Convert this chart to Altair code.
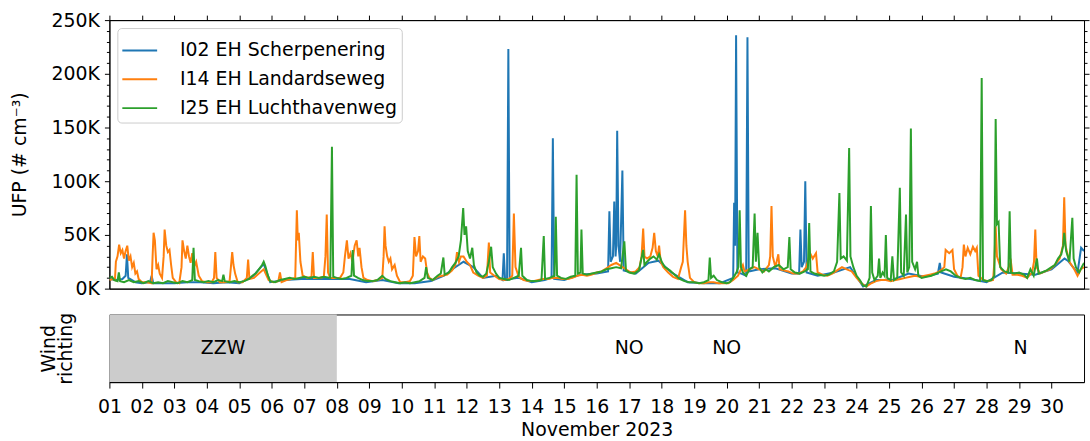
import altair as alt
import pandas as pd

SERIES_NAMES = ["I02 EH Scherpenering", "I14 EH Landardseweg", "I25 EH Luchthavenweg"]
COLORS = ["#1f77b4", "#ff7f0e", "#2ca02c"]

# (day of November as decimal, UFP in thousands per cm3)
BLUE = [
    (1.0, 9), (1.2, 8), (1.4, 9), (1.5, 12), (1.54, 32), (1.58, 10), (1.8, 6), (2.0, 5), (2.25, 6), (2.3, 12),
    (2.35, 5), (2.6, 5), (3.0, 5), (3.4, 6), (3.8, 6), (4.2, 5), (4.6, 6), (5.0, 5), (5.4, 11), (5.75, 23),
    (5.95, 6), (6.4, 8), (6.9, 9), (7.4, 9), (7.9, 9), (8.4, 9), (8.9, 6), (9.4, 8), (9.9, 5), (10.4, 5),
    (10.9, 7), (11.3, 12), (11.6, 19), (11.9, 25), (12.2, 20), (12.5, 10), (12.9, 12), (13.1, 8), (13.14, 33),
    (13.18, 8), (13.24, 8), (13.28, 223), (13.32, 9), (13.6, 10), (14.0, 6), (14.4, 8), (14.61, 10), (14.65, 140),
    (14.69, 9), (15.0, 8), (15.5, 13), (16.0, 14), (16.35, 16), (16.39, 72), (16.43, 25), (16.5, 30),
    (16.54, 81), (16.58, 30), (16.6, 40), (16.63, 147), (16.67, 40), (16.72, 25), (16.79, 110), (16.83, 17),
    (17.2, 14), (17.6, 24), (17.9, 26), (18.3, 15), (18.8, 6), (19.3, 5), (19.8, 5), (20.2, 10), (20.23, 80),
    (20.26, 40), (20.29, 236), (20.33, 15), (20.45, 14), (20.6, 12), (20.64, 234), (20.68, 16), (21.0, 18),
    (21.5, 19), (22.0, 14), (22.23, 14), (22.27, 55), (22.31, 20), (22.38, 25), (22.42, 100), (22.46, 15),
    (22.8, 12), (23.3, 15), (23.8, 20), (24.2, 2), (24.6, 8), (25.1, 8), (25.6, 14), (26.1, 11), (26.5, 14),
    (26.56, 24), (26.6, 15), (27.0, 11), (27.5, 9), (28.0, 6), (28.5, 15), (29.0, 14), (29.5, 13), (30.0, 18),
    (30.4, 28), (30.5, 26), (30.8, 15), (30.91, 38), (31.0, 35),
]

ORANGE = [
    (1.0, 8), (1.1, 9), (1.17, 8), (1.2, 25), (1.25, 30), (1.3, 41), (1.35, 33), (1.4, 36), (1.45, 28),
    (1.5, 35), (1.55, 40), (1.6, 26), (1.65, 30), (1.7, 20), (1.75, 24), (1.8, 14), (1.85, 16), (1.9, 9),
    (2.0, 6), (2.15, 6), (2.3, 5), (2.33, 30), (2.36, 52), (2.4, 45), (2.45, 18), (2.5, 22), (2.55, 14),
    (2.62, 10), (2.67, 30), (2.7, 55), (2.75, 40), (2.8, 34), (2.85, 36), (2.9, 22), (2.95, 10), (3.05, 6),
    (3.15, 5), (3.22, 20), (3.25, 45), (3.3, 35), (3.35, 28), (3.4, 40), (3.45, 30), (3.5, 24), (3.55, 33),
    (3.6, 20), (3.67, 25), (3.75, 12), (3.85, 7), (4.0, 6), (4.15, 6), (4.22, 10), (4.26, 34), (4.3, 10),
    (4.4, 6), (4.55, 6), (4.7, 7), (4.74, 20), (4.78, 34), (4.82, 22), (4.87, 14), (4.95, 6), (5.1, 6),
    (5.23, 10), (5.27, 27), (5.31, 9), (5.45, 10), (5.6, 14), (5.75, 18), (5.9, 8), (6.05, 6), (6.2, 7),
    (6.25, 15), (6.3, 6), (6.45, 8), (6.6, 9), (6.72, 10), (6.77, 73), (6.8, 45), (6.83, 52), (6.88, 25),
    (6.95, 12), (7.1, 10), (7.22, 11), (7.26, 34), (7.3, 10), (7.45, 10), (7.6, 11), (7.65, 30), (7.69, 69),
    (7.73, 15), (7.8, 10), (7.95, 10), (8.1, 10), (8.2, 15), (8.25, 30), (8.31, 45), (8.36, 28), (8.42, 33),
    (8.48, 25), (8.55, 40), (8.61, 45), (8.66, 30), (8.7, 38), (8.76, 20), (8.82, 10), (8.95, 8), (9.1, 7),
    (9.25, 8), (9.4, 10), (9.44, 30), (9.47, 58), (9.5, 40), (9.55, 30), (9.6, 25), (9.65, 28), (9.7, 18),
    (9.78, 22), (9.85, 12), (9.95, 6), (10.1, 6), (10.25, 7), (10.34, 12), (10.39, 48), (10.44, 30),
    (10.5, 35), (10.54, 49), (10.58, 25), (10.65, 30), (10.72, 28), (10.78, 15), (10.85, 10), (10.95, 8),
    (11.1, 11), (11.25, 12), (11.4, 13), (11.55, 17), (11.65, 22), (11.7, 34), (11.76, 25), (11.82, 30),
    (11.9, 30), (12.0, 25), (12.1, 22), (12.2, 15), (12.35, 12), (12.5, 10), (12.62, 12), (12.68, 43),
    (12.72, 15), (12.85, 12), (13.0, 9), (13.15, 8), (13.3, 9), (13.4, 12), (13.45, 70), (13.5, 20),
    (13.6, 11), (13.75, 8), (13.9, 7), (14.05, 7), (14.2, 8), (14.35, 9), (14.5, 9), (14.65, 10), (14.8, 10),
    (14.95, 9), (15.1, 9), (15.25, 10), (15.4, 12), (15.55, 13), (15.7, 12), (15.85, 13), (16.0, 15),
    (16.15, 16), (16.3, 19), (16.45, 22), (16.6, 24), (16.75, 21), (16.9, 18), (17.05, 15), (17.2, 16),
    (17.32, 20), (17.38, 30), (17.43, 56), (17.47, 30), (17.55, 28), (17.65, 30), (17.72, 38), (17.77, 52),
    (17.82, 35), (17.88, 30), (17.92, 40), (17.97, 25), (18.05, 20), (18.2, 15), (18.35, 11), (18.5, 9),
    (18.6, 20), (18.65, 25), (18.72, 73), (18.76, 40), (18.8, 25), (18.87, 10), (19.0, 6), (19.15, 5),
    (19.3, 5), (19.45, 6), (19.6, 6), (19.75, 5), (19.9, 5), (20.05, 5), (20.2, 8), (20.35, 12), (20.5, 22),
    (20.55, 16), (20.7, 18), (20.85, 20), (21.0, 18), (21.15, 16), (21.3, 22), (21.34, 30), (21.38, 77),
    (21.42, 30), (21.5, 20), (21.59, 32), (21.63, 18), (21.75, 17), (21.9, 16), (22.05, 14), (22.2, 14),
    (22.35, 16), (22.45, 20), (22.57, 33), (22.65, 28), (22.75, 33), (22.8, 15), (22.95, 13), (23.1, 12),
    (23.25, 14), (23.4, 17), (23.55, 20), (23.7, 18), (23.85, 16), (24.0, 10), (24.15, 5), (24.3, 2),
    (24.45, 5), (24.6, 7), (24.75, 8), (24.9, 8), (25.05, 7), (25.2, 8), (25.35, 9), (25.5, 10), (25.65, 11),
    (25.8, 12), (25.95, 11), (26.1, 12), (26.25, 13), (26.4, 14), (26.55, 16), (26.7, 20), (26.74, 36),
    (26.85, 33), (26.95, 36), (27.0, 18), (27.1, 12), (27.2, 10), (27.26, 20), (27.3, 41), (27.35, 30),
    (27.42, 38), (27.5, 32), (27.58, 39), (27.65, 35), (27.7, 38), (27.75, 12), (27.9, 8), (28.05, 7),
    (28.2, 8), (28.24, 25), (28.28, 58), (28.32, 30), (28.45, 18), (28.6, 14), (28.75, 25), (28.8, 13),
    (28.95, 13), (29.1, 12), (29.25, 10), (29.4, 15), (29.46, 25), (29.5, 55), (29.54, 20), (29.65, 14),
    (29.8, 16), (29.95, 18), (30.1, 22), (30.25, 28), (30.35, 40), (30.39, 85), (30.43, 40), (30.55, 25),
    (30.7, 18), (30.8, 12), (30.9, 18), (31.0, 20),
]

GREEN = [
    (1.0, 10), (1.08, 11), (1.15, 8), (1.25, 7), (1.29, 15), (1.33, 7), (1.45, 6), (1.6, 8), (1.75, 6),
    (1.9, 7), (2.05, 5), (2.2, 7), (2.35, 5), (2.5, 6), (2.65, 5), (2.8, 7), (2.95, 6), (3.1, 5), (3.25, 7),
    (3.4, 6), (3.55, 8), (3.59, 38), (3.63, 8), (3.75, 7), (3.9, 6), (4.05, 7), (4.2, 6), (4.35, 8),
    (4.47, 7), (4.51, 13), (4.55, 7), (4.7, 6), (4.85, 7), (5.0, 6), (5.15, 7), (5.3, 9), (5.4, 12),
    (5.5, 14), (5.6, 18), (5.7, 22), (5.75, 25), (5.8, 21), (5.88, 12), (5.95, 7), (6.1, 6), (6.25, 8),
    (6.4, 9), (6.55, 10), (6.7, 9), (6.85, 10), (7.0, 11), (7.15, 10), (7.3, 11), (7.45, 10), (7.6, 11),
    (7.8, 10), (7.85, 132), (7.89, 11), (8.0, 10), (8.15, 9), (8.3, 10), (8.45, 12), (8.49, 36), (8.53, 12),
    (8.65, 10), (8.8, 8), (8.95, 7), (9.1, 7), (9.25, 8), (9.4, 12), (9.5, 9), (9.65, 7), (9.8, 6),
    (9.95, 5), (10.1, 6), (10.25, 5), (10.4, 6), (10.55, 7), (10.7, 10), (10.75, 20), (10.8, 10),
    (10.95, 8), (11.1, 12), (11.2, 14), (11.28, 29), (11.32, 13), (11.45, 15), (11.55, 20), (11.65, 24),
    (11.75, 30), (11.82, 45), (11.89, 75), (11.93, 50), (11.98, 58), (12.03, 35), (12.1, 28), (12.17, 38),
    (12.22, 22), (12.3, 15), (12.4, 12), (12.5, 11), (12.6, 14), (12.68, 25), (12.75, 39), (12.8, 20),
    (12.9, 14), (13.0, 10), (13.15, 9), (13.3, 8), (13.45, 10), (13.6, 12), (13.67, 38), (13.71, 12),
    (13.85, 8), (14.0, 7), (14.15, 7), (14.3, 8), (14.37, 49), (14.41, 9), (14.55, 10), (14.7, 12),
    (14.74, 67), (14.78, 12), (14.9, 10), (15.05, 9), (15.2, 11), (15.34, 12), (15.38, 106), (15.42, 14),
    (15.5, 15), (15.53, 55), (15.57, 14), (15.7, 13), (15.85, 14), (16.0, 15), (16.15, 16), (16.3, 18),
    (16.45, 19), (16.6, 20), (16.75, 19), (16.85, 44), (16.9, 17), (17.0, 15), (17.15, 14), (17.3, 17),
    (17.43, 36), (17.47, 22), (17.55, 25), (17.65, 28), (17.75, 30), (17.85, 27), (17.92, 32), (18.0, 25),
    (18.1, 20), (18.25, 17), (18.4, 13), (18.55, 9), (18.7, 7), (18.85, 6), (19.0, 6), (19.15, 5),
    (19.3, 6), (19.44, 8), (19.48, 29), (19.52, 10), (19.6, 12), (19.7, 8), (19.85, 6), (20.0, 5),
    (20.1, 6), (20.2, 10), (20.3, 15), (20.36, 20), (20.4, 73), (20.44, 20), (20.5, 15), (20.6, 12),
    (20.7, 18), (20.8, 20), (20.86, 70), (20.9, 25), (20.95, 52), (21.0, 20), (21.1, 15), (21.2, 18),
    (21.3, 16), (21.45, 20), (21.6, 22), (21.75, 18), (21.88, 20), (21.93, 48), (21.97, 18), (22.1, 15),
    (22.25, 14), (22.4, 16), (22.5, 18), (22.54, 61), (22.58, 16), (22.7, 14), (22.85, 13), (23.0, 12),
    (23.15, 13), (23.3, 16), (23.4, 25), (23.47, 89), (23.51, 28), (23.6, 30), (23.7, 26), (23.77, 131),
    (23.81, 30), (23.9, 20), (24.0, 12), (24.1, 8), (24.2, 3), (24.3, 2), (24.4, 10), (24.44, 77),
    (24.48, 15), (24.55, 8), (24.65, 12), (24.69, 28), (24.73, 10), (24.8, 15), (24.86, 12), (24.9, 50),
    (24.94, 10), (25.05, 8), (25.1, 30), (25.15, 8), (25.25, 10), (25.33, 94), (25.37, 15), (25.45, 12),
    (25.52, 69), (25.56, 15), (25.62, 20), (25.67, 149), (25.71, 25), (25.8, 18), (25.86, 25), (25.9, 12),
    (26.0, 10), (26.15, 11), (26.3, 12), (26.45, 14), (26.6, 16), (26.75, 18), (26.9, 16), (27.05, 12),
    (27.2, 10), (27.35, 9), (27.5, 10), (27.65, 8), (27.8, 7), (27.85, 196), (27.89, 8), (28.0, 7),
    (28.15, 8), (28.24, 12), (28.28, 158), (28.32, 60), (28.37, 62), (28.42, 20), (28.55, 16), (28.67, 15),
    (28.71, 72), (28.75, 15), (28.85, 14), (29.0, 15), (29.15, 13), (29.25, 10), (29.35, 18), (29.45, 12),
    (29.55, 28), (29.6, 14), (29.7, 15), (29.85, 17), (30.0, 20), (30.1, 22), (30.2, 28), (30.3, 32),
    (30.36, 40), (30.39, 52), (30.45, 35), (30.55, 25), (30.64, 66), (30.68, 28), (30.75, 20), (30.85, 15),
    (30.93, 20), (31.0, 24),
]

WIND_BAND_START = [1.0]
WIND_BAND_END = [8.0]
WIND_LABELS = ["ZZW", "NO", "NO", "N"]
WIND_LABEL_DAYS = [4.5, 17.0, 20.0, 29.05]
DAY_TICKS = list(range(1, 31))
Y_TICKS = list(range(0, 250001, 10000))

FONT = "DejaVu Sans"
FS = 19
W = 980
H_MAIN = 270
H_WIND = 68

rows = []
for name, pts in zip(SERIES_NAMES, [BLUE, ORANGE, GREEN]):
    for d, v in pts:
        rows.append({"day": d, "ufp": v * 1000, "station": name})
df = pd.DataFrame(rows)

x_scale = alt.Scale(domain=[1, 31], nice=False, zero=False)
y_scale = alt.Scale(domain=[0, 250000], nice=False)
tick_cond = {"condition": {"test": "datum.value % 50000 === 0", "value": 5}, "value": 3}

x_main = alt.X("day:Q", scale=x_scale,
               axis=alt.Axis(values=DAY_TICKS, labels=False, title=None, ticks=False, grid=False))
y_main = alt.Y("ufp:Q", scale=y_scale,
               axis=alt.Axis(values=Y_TICKS, grid=False, tickSize=tick_cond,
                             labelExpr="datum.value % 50000 === 0 ? (datum.value / 1000) + 'K' : ''",
                             labelPadding=5, title="UFP (# cm⁻³)", titleAngle=270, titleX=-90, titleY=H_MAIN / 2,
                             titleAlign="center", titleBaseline="middle"))
color = alt.Color("station:N", scale=alt.Scale(domain=SERIES_NAMES, range=COLORS),
                  legend=alt.Legend(title=None, orient="top-left", offset=8, padding=4, fillColor="white",
                                    strokeColor="#cccccc", cornerRadius=4, symbolType="stroke",
                                    symbolSize=1225, symbolStrokeWidth=2, labelFontSize=FS, labelLimit=0,
                                    labelOffset=22, rowPadding=-5, labelColor="black", labelFont=FONT))

line_layers = []
for name in SERIES_NAMES:
    line_layers.append(
        alt.Chart(df).transform_filter(alt.datum.station == name)
        .mark_line(strokeWidth=2, clip=True)
        .encode(x=x_main, y=y_main, color=color)
    )
lines = alt.layer(*line_layers)

ghost = alt.Chart(df).transform_filter(alt.datum.station == SERIES_NAMES[2]).mark_line(opacity=0).encode(
    x=alt.X("day:Q", scale=x_scale,
            axis=alt.Axis(orient="top", values=DAY_TICKS, labels=False, title=None, tickSize=5, grid=False)),
    y=alt.Y("ufp:Q", scale=y_scale,
            axis=alt.Axis(orient="right", values=Y_TICKS, labels=False, title=None, tickSize=tick_cond, grid=False)),
)

main = alt.layer(lines, ghost).resolve_axis(x="independent", y="independent").properties(width=W, height=H_MAIN)

band_df = pd.DataFrame({"start": WIND_BAND_START, "end": WIND_BAND_END, "y0": [0] * len(WIND_BAND_START),
                        "y1": [1] * len(WIND_BAND_START)})
lab_df = pd.DataFrame({"day": WIND_LABEL_DAYS, "label": WIND_LABELS, "ypos": [0.5] * len(WIND_LABELS)})

x_wind_axis = alt.Axis(values=DAY_TICKS, grid=False, tickSize=6, labelPadding=10, labelFlush=False,
                       labelExpr="datum.value < 10 ? '0' + datum.value : '' + datum.value",
                       title="November 2023", titlePadding=4)
y_wind = alt.Scale(domain=[0, 1], nice=False)

rect = alt.Chart(band_df).mark_rect(color="#cccccc").encode(
    x=alt.X("start:Q", scale=x_scale, axis=x_wind_axis),
    x2="end:Q",
    y=alt.Y("y0:Q", scale=y_wind,
            axis=alt.Axis(title=["Wind", "richting"], labels=False, ticks=False, domain=False, grid=False,
                          titleAngle=270, titleX=-61, titleY=H_WIND / 2, titleAlign="center",
                          titleBaseline="middle", titleLineHeight=17)),
    y2="y1:Q",
)
texts = alt.Chart(lab_df).mark_text(fontSize=FS, font=FONT, color="black").encode(
    x=alt.X("day:Q", scale=x_scale, axis=x_wind_axis),
    y=alt.Y("ypos:Q", scale=y_wind),
    text="label:N",
)
wind = alt.layer(rect, texts).properties(width=W, height=H_WIND)

chart = alt.vconcat(main, wind, spacing=12).properties(
    padding={"left": 10, "top": 9, "right": 0, "bottom": 0},
).configure(font=FONT, background="white").configure_axis(
    domainColor="black", tickColor="black", labelColor="black", titleColor="black",
    labelFont=FONT, titleFont=FONT, labelFontSize=FS, titleFontSize=FS, titleFontWeight="normal",
    domainWidth=1, tickWidth=1,
).configure_view(stroke="black", strokeWidth=1)

chart.save("out.html", embed_options={"renderer": "svg", "actions": False})
